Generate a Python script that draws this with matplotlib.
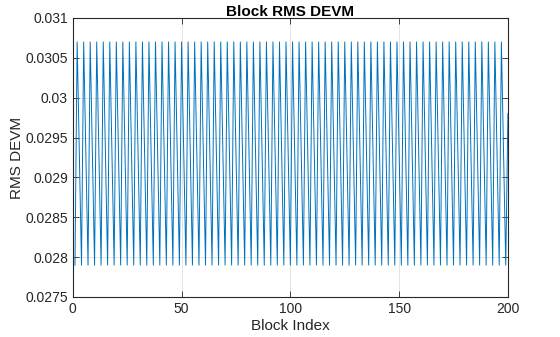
import numpy as np
import matplotlib
matplotlib.use("Agg")
import matplotlib.pyplot as plt

# block RMS DEVM, repeating low / high / mid cycle
block_index = list(range(1, 201))
rms_devm = [
    0.0279, 0.0307, 0.0293, 0.0279, 0.0307, 0.0293, 0.0279, 0.0307, 0.0293, 0.0279, 0.0307, 0.0293,
    0.0279, 0.0307, 0.0293, 0.0279, 0.0307, 0.0293, 0.0279, 0.0307, 0.0293, 0.0279, 0.0307, 0.0293,
    0.0279, 0.0307, 0.0293, 0.0279, 0.0307, 0.0293, 0.0279, 0.0307, 0.0293, 0.0279, 0.0307, 0.0293,
    0.0279, 0.0307, 0.0293, 0.0279, 0.0307, 0.0293, 0.0279, 0.0307, 0.0293, 0.0279, 0.0307, 0.0293,
    0.0279, 0.0307, 0.0293, 0.0279, 0.0307, 0.0293, 0.0279, 0.0307, 0.0293, 0.0279, 0.0307, 0.0293,
    0.0279, 0.0307, 0.0293, 0.0279, 0.0307, 0.0293, 0.0279, 0.0307, 0.0293, 0.0279, 0.0307, 0.0293,
    0.0279, 0.0307, 0.0293, 0.0279, 0.0307, 0.0293, 0.0279, 0.0307, 0.0293, 0.0279, 0.0307, 0.0293,
    0.0279, 0.0307, 0.0293, 0.0279, 0.0307, 0.0293, 0.0279, 0.0307, 0.0293, 0.0279, 0.0307, 0.0293,
    0.0279, 0.0307, 0.0293, 0.0279, 0.0307, 0.0293, 0.0279, 0.0307, 0.0293, 0.0279, 0.0307, 0.0293,
    0.0279, 0.0307, 0.0293, 0.0279, 0.0307, 0.0293, 0.0279, 0.0307, 0.0293, 0.0279, 0.0307, 0.0293,
    0.0279, 0.0307, 0.0293, 0.0279, 0.0307, 0.0293, 0.0279, 0.0307, 0.0293, 0.0279, 0.0307, 0.0293,
    0.0279, 0.0307, 0.0293, 0.0279, 0.0307, 0.0293, 0.0279, 0.0307, 0.0293, 0.0279, 0.0307, 0.0293,
    0.0279, 0.0307, 0.0293, 0.0279, 0.0307, 0.0293, 0.0279, 0.0307, 0.0293, 0.0279, 0.0307, 0.0293,
    0.0279, 0.0307, 0.0293, 0.0279, 0.0307, 0.0293, 0.0279, 0.0307, 0.0293, 0.0279, 0.0307, 0.0293,
    0.0279, 0.0307, 0.0293, 0.0279, 0.0307, 0.0293, 0.0279, 0.0307, 0.0293, 0.0279, 0.0307, 0.0293,
    0.0279, 0.0307, 0.0293, 0.0279, 0.0307, 0.0293, 0.0279, 0.0307, 0.0293, 0.0279, 0.0307, 0.0293,
    0.0279, 0.0307, 0.0293, 0.0279, 0.0307, 0.0293, 0.0279, 0.0298,
]

x_ticks = [0, 50, 100, 150, 200]
y_ticks = [0.0275, 0.028, 0.0285, 0.029, 0.0295, 0.03, 0.0305, 0.031]
y_tick_labels = ["0.0275", "0.028", "0.0285", "0.029", "0.0295", "0.03", "0.0305", "0.031"]

plt.rcParams['font.family'] = ['Liberation Sans', 'DejaVu Sans']
dark = '#262626'

fig = plt.figure(figsize=(5.6, 3.37), dpi=100)
ax = fig.add_axes([0.130, 0.1187, 0.777, 0.8279])

ax.plot(block_index, rms_devm, color='#0072BD', linewidth=0.7)

ax.set_xlim(0, 200)
ax.set_ylim(0.0275, 0.031)
ax.set_xticks(x_ticks)
ax.set_yticks(y_ticks)
ax.set_yticklabels(y_tick_labels)

ax.grid(True, color='#dfdfdf', linewidth=0.6)
ax.set_axisbelow(True)
ax.tick_params(direction='in', length=4, width=0.6, colors=dark, labelsize=10,
               top=True, right=True)
for s in ax.spines.values():
    s.set_color(dark)
    s.set_linewidth(0.8)

ax.set_xlabel('Block Index', fontsize=11, color=dark, labelpad=2)
ax.set_ylabel('RMS DEVM', fontsize=11, color=dark, labelpad=1)
ax.set_title('Block RMS DEVM', fontsize=11, fontweight='bold', color='black', pad=1.5)

fig.savefig('out.png', dpi=100)
